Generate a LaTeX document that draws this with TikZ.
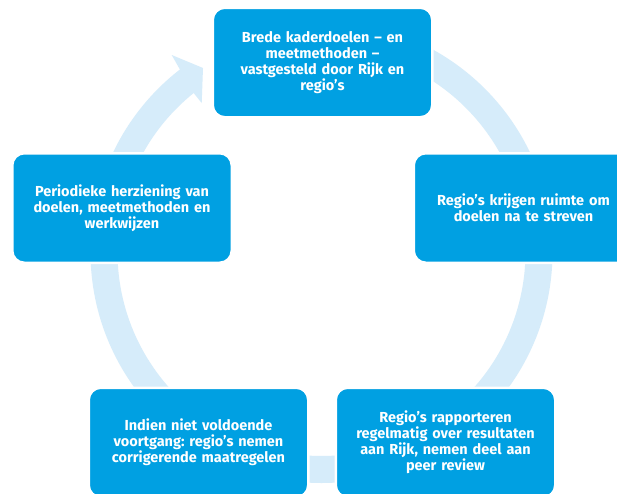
\documentclass[tikz,border=0pt]{standalone}
\usepackage{fontspec}
\setmainfont{Fira Sans}
\frenchspacing
\definecolor{boxblue}{RGB}{0,160,226}
\definecolor{ringblue}{RGB}{214,236,250}
\tikzset{
  stagebox/.style={rectangle, rounded corners=12, fill=boxblue, draw=white, line width=2.5,
    minimum width=219.5, minimum height=109.5, inner sep=0, text=white,
    text width=212, align=center, font=\bfseries\fontsize{14.5}{16}\selectfont}
}
\begin{document}
\begin{tikzpicture}[x=1pt,y=-1pt]
\useasboundingbox (0,0) rectangle (617,493);
\clip (0,0) rectangle (617,493);
\fill[white] (0,0) rectangle (617,493);
\begin{scope}[shift={(321.5,252)}]
\fill[ringblue] (-90:231) arc[start angle=-90, end angle=232.2, radius=231]
  -- (-149.8,-197) -- (-118.5,-184) -- (-119.8,-149) -- (231.2:204)
  arc[start angle=231.2, end angle=-90, radius=204] -- cycle;
\end{scope}
\node[stagebox] (top) at (322.5,62.5) {Brede kaderdoelen -- en\\meetmethoden --\\vastgesteld door Rijk en\\regio’s};
\node[stagebox] (right) at (523.5,208) {Regio’s krijgen ruimte om\\doelen na te streven};
\node[stagebox] (left) at (122,208) {Periodieke herziening van\\doelen, meetmethoden en\\werkwijzen};
\node[stagebox] (botleft) at (198.5,442.5) {Indien niet voldoende\\voortgang: regio’s nemen\\corrigerende maatregelen};
\node[stagebox] (botright) at (445.5,442.5) {Regio’s rapporteren\\regelmatig over resultaten\\aan Rijk, nemen deel aan\\peer review};
\end{tikzpicture}
\end{document}
